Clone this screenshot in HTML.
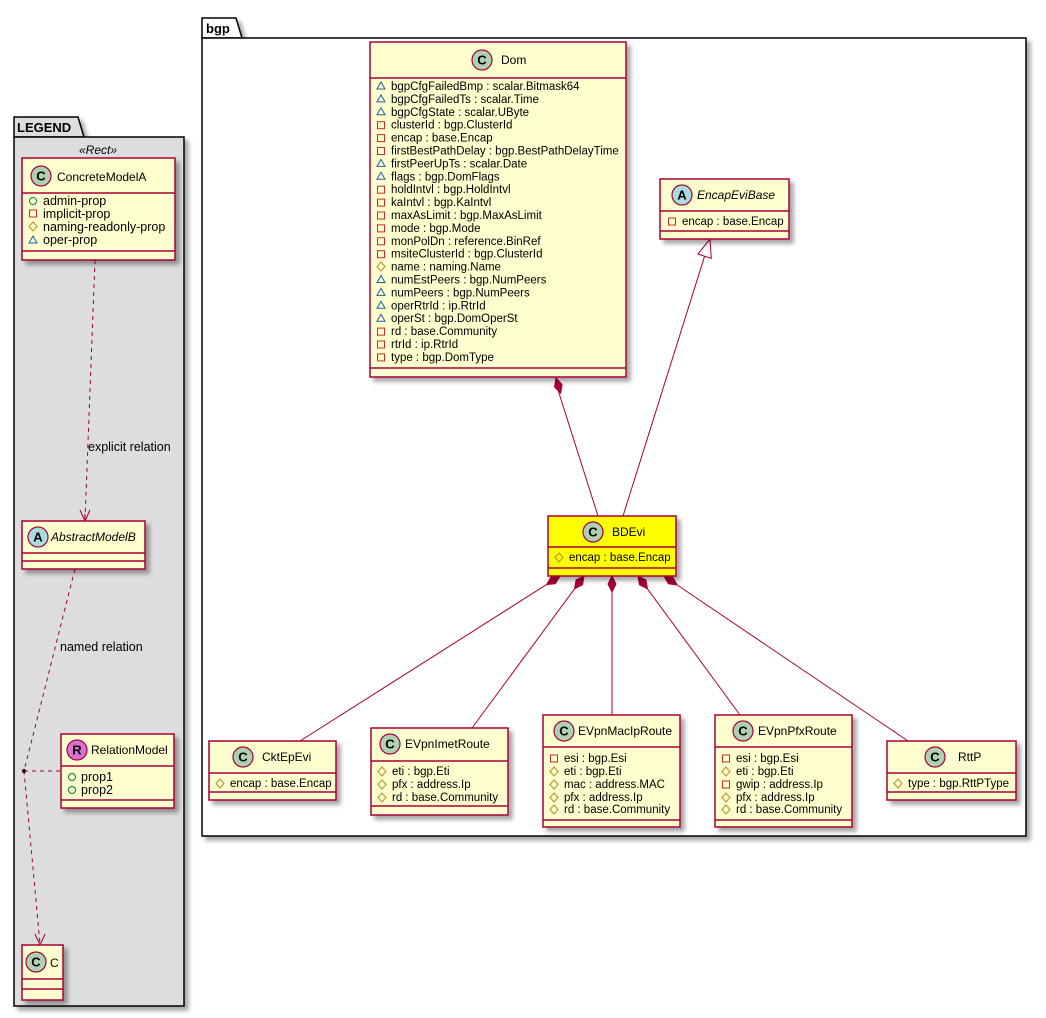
<!DOCTYPE html>
<html><head><meta charset="utf-8"><style>
html,body{margin:0;padding:0;background:#fff;width:1046px;height:1018px;overflow:hidden}
svg{display:block;font-family:"Liberation Sans",sans-serif}
.c{fill:#FEFECE;stroke:#A80036;stroke-width:1.5}
.l{stroke:#A80036;stroke-width:1.5}
.e{stroke:#A80036;stroke-width:1;fill:none}
.t{font-size:11.5px;fill:#000}
.lg{font-size:12.5px}
.n{font-size:12px;fill:#000}
.ci{fill:#ADD1B2;stroke:#A80036;stroke-width:1.2}
.ai{fill:#A9DCDF;stroke:#A80036;stroke-width:1.2}
.ri{fill:#DA70D6;stroke:#A80036;stroke-width:1.2}
.il{font-size:13px;font-weight:bold;text-anchor:middle;fill:#000}
.tri{fill:none;stroke:#1963A0;stroke-width:1}
.sq{fill:none;stroke:#C82930;stroke-width:1}
.dia{fill:none;stroke:#B38D22;stroke-width:1}
.ci2{fill:none;stroke:#038048;stroke-width:1}
</style></head><body>
<svg width="1046" height="1018" viewBox="0 0 1046 1018">
<defs><filter id="s" x="-10%" y="-10%" width="130%" height="130%"><feDropShadow dx="4" dy="4" stdDeviation="2" flood-color="#000" flood-opacity="0.35"/></filter></defs>

<g filter="url(#s)">
<path d="M14,137 L14,117 L78,117 L84,137 Z" fill="#DDDDDD" stroke="#000" stroke-width="1.5"/>
<rect x="14" y="137" width="170" height="869" fill="#DDDDDD" stroke="#000" stroke-width="1.5"/>
</g>
<text x="17" y="132" style="font-size:13px;font-weight:bold">LEGEND</text>
<text x="98" y="154" style="font-size:12px;font-style:italic" text-anchor="middle">«Rect»</text>

<g filter="url(#s)">
<path d="M202,38 L202,18 L236,18 L242,38 Z" fill="#fff" stroke="#000" stroke-width="1.5"/>
<rect x="202" y="38" width="824" height="798" fill="#fff" stroke="#000" stroke-width="1.5"/>
</g>
<text x="206" y="33" style="font-size:13px;font-weight:bold">bgp</text>

<path d="M95,260 L85,520" class="e" stroke-dasharray="4,4"/>
<path d="M80,510 L85,521 L90,510 M85,521 L85,514" class="e"/>
<text x="88" y="451" class="t" style="font-size:12.5px">explicit relation</text>
<path d="M75,569 L24,771 L40,944" class="e" stroke-dasharray="4,4"/>
<path d="M35,934 L40,945 L45,934" class="e"/>
<circle cx="24" cy="771" r="2" fill="#000"/>
<path d="M24,771 L61,771" class="e" stroke-dasharray="4,4"/>
<text x="60" y="651" class="t" style="font-size:12.5px">named relation</text>

<g filter="url(#s)"><rect x="22" y="158" width="153" height="102" class="c"/></g>
<line x1="22" y1="193" x2="175" y2="193" class="l"/><line x1="22" y1="251" x2="175" y2="251" class="l"/>
<circle cx="41" cy="176" r="10" class="ci"/><text x="41" y="180.5" class="il">C</text>
<text x="57" y="181" class="n">ConcreteModelA</text>
<circle cx="33" cy="201" r="3.5" class="ci2"/><text x="43" y="205" class="t lg">admin-prop</text>
<rect x="29.5" y="210" width="7" height="7" class="sq"/><text x="43" y="218" class="t lg">implicit-prop</text>
<polygon points="33,222 37,226.5 33,231 29,226.5" class="dia"/><text x="43" y="231" class="t lg">naming-readonly-prop</text>
<polygon points="29,243 37,243 33,236" class="tri"/><text x="43" y="244" class="t lg">oper-prop</text>

<g filter="url(#s)"><rect x="22" y="521" width="123" height="48" class="c"/></g>
<line x1="22" y1="553" x2="145" y2="553" class="l"/><line x1="22" y1="561" x2="145" y2="561" class="l"/>
<circle cx="38" cy="537" r="10" class="ai"/><text x="38" y="541.5" class="il">A</text>
<text x="51" y="541" class="n" style="font-style:italic">AbstractModelB</text>

<g filter="url(#s)"><rect x="61" y="734" width="113" height="74" class="c"/></g>
<line x1="61" y1="766" x2="174" y2="766" class="l"/><line x1="61" y1="800" x2="174" y2="800" class="l"/>
<circle cx="77" cy="750" r="10" class="ri"/><text x="77" y="754.5" class="il">R</text>
<text x="91" y="754" class="n">RelationModel</text>
<circle cx="72" cy="777" r="3.5" class="ci2"/><text x="81" y="781" class="t lg">prop1</text>
<circle cx="72" cy="790" r="3.5" class="ci2"/><text x="81" y="794" class="t lg">prop2</text>

<g filter="url(#s)"><rect x="22" y="945" width="41" height="55" class="c"/></g>
<line x1="22" y1="979" x2="63" y2="979" class="l"/><line x1="22" y1="989" x2="63" y2="989" class="l"/>
<circle cx="36" cy="962" r="10" class="ci"/><text x="36" y="966.5" class="il">C</text>
<text x="50" y="967" class="n">C</text>

<line x1="558" y1="390" x2="598" y2="516" class="e"/>
<polygon points="556,378 562.1,384.5 560.7,393.3 554.5,386.9" fill="#A80036" stroke="#A80036"/>
<line x1="704.6" y1="256.2" x2="623" y2="516" class="e"/>
<polygon points="710,239 711.3,258.3 697.9,254.1" fill="#fff" stroke="#A80036"/>
<line x1="546.5" y1="584.6" x2="300" y2="741" class="e"/>
<polygon points="560,576 555.4,583.7 546.5,584.6 551.1,576.9" fill="#A80036" stroke="#A80036"/>
<line x1="574.5" y1="588.9" x2="472" y2="728" class="e"/>
<polygon points="584,576 582.5,584.8 574.5,588.9 576.1,580" fill="#A80036" stroke="#A80036"/>
<line x1="612" y1="592" x2="612" y2="715" class="e"/>
<polygon points="612,576 616,584 612,592 608,584" fill="#A80036" stroke="#A80036"/>
<line x1="647.5" y1="588.9" x2="740" y2="715" class="e"/>
<polygon points="638,576 645.9,580 647.5,588.9 639.5,584.8" fill="#A80036" stroke="#A80036"/>
<line x1="677.2" y1="585" x2="908" y2="741" class="e"/>
<polygon points="664,576 672.8,577.2 677.2,585 668.4,583.8" fill="#A80036" stroke="#A80036"/>

<g filter="url(#s)"><rect x="370" y="42" width="256" height="335" class="c"/></g>
<line x1="370" y1="78" x2="626" y2="78" class="l"/><line x1="370" y1="368" x2="626" y2="368" class="l"/>
<circle cx="482" cy="60" r="10" class="ci"/><text x="482" y="64.5" class="il">C</text>
<text x="501" y="64" class="n">Dom</text>
<g class="t">
<polygon points="377,89 385,89 381,82" class="tri"/><text x="391" y="90">bgpCfgFailedBmp : scalar.Bitmask64</text>
<polygon points="377,101.9 385,101.9 381,94.9" class="tri"/><text x="391" y="102.9">bgpCfgFailedTs : scalar.Time</text>
<polygon points="377,114.8 385,114.8 381,107.8" class="tri"/><text x="391" y="115.8">bgpCfgState : scalar.UByte</text>
<rect x="377.5" y="121.7" width="7" height="7" class="sq"/><text x="391" y="128.7">clusterId : bgp.ClusterId</text>
<rect x="377.5" y="134.6" width="7" height="7" class="sq"/><text x="391" y="141.6">encap : base.Encap</text>
<rect x="377.5" y="147.5" width="7" height="7" class="sq"/><text x="391" y="154.5">firstBestPathDelay : bgp.BestPathDelayTime</text>
<polygon points="377,166.4 385,166.4 381,159.4" class="tri"/><text x="391" y="167.4">firstPeerUpTs : scalar.Date</text>
<polygon points="377,179.3 385,179.3 381,172.3" class="tri"/><text x="391" y="180.3">flags : bgp.DomFlags</text>
<rect x="377.5" y="186.2" width="7" height="7" class="sq"/><text x="391" y="193.2">holdIntvl : bgp.HoldIntvl</text>
<rect x="377.5" y="199.1" width="7" height="7" class="sq"/><text x="391" y="206.1">kaIntvl : bgp.KaIntvl</text>
<rect x="377.5" y="212" width="7" height="7" class="sq"/><text x="391" y="219">maxAsLimit : bgp.MaxAsLimit</text>
<rect x="377.5" y="224.9" width="7" height="7" class="sq"/><text x="391" y="231.9">mode : bgp.Mode</text>
<rect x="377.5" y="237.8" width="7" height="7" class="sq"/><text x="391" y="244.8">monPolDn : reference.BinRef</text>
<rect x="377.5" y="250.7" width="7" height="7" class="sq"/><text x="391" y="257.7">msiteClusterId : bgp.ClusterId</text>
<polygon points="381,262 385,266.5 381,271 377,266.5" class="dia"/><text x="391" y="270.6">name : naming.Name</text>
<polygon points="377,282.5 385,282.5 381,275.5" class="tri"/><text x="391" y="283.5">numEstPeers : bgp.NumPeers</text>
<polygon points="377,295.4 385,295.4 381,288.4" class="tri"/><text x="391" y="296.4">numPeers : bgp.NumPeers</text>
<polygon points="377,308.3 385,308.3 381,301.3" class="tri"/><text x="391" y="309.3">operRtrId : ip.RtrId</text>
<polygon points="377,321.2 385,321.2 381,314.2" class="tri"/><text x="391" y="322.2">operSt : bgp.DomOperSt</text>
<rect x="377.5" y="328.1" width="7" height="7" class="sq"/><text x="391" y="335.1">rd : base.Community</text>
<rect x="377.5" y="341" width="7" height="7" class="sq"/><text x="391" y="348">rtrId : ip.RtrId</text>
<rect x="377.5" y="353.9" width="7" height="7" class="sq"/><text x="391" y="360.9">type : bgp.DomType</text>
</g>

<g filter="url(#s)"><rect x="660" y="179" width="129" height="60" class="c"/></g>
<line x1="660" y1="211" x2="789" y2="211" class="l"/><line x1="660" y1="231" x2="789" y2="231" class="l"/>
<circle cx="682" cy="195" r="10" class="ai"/><text x="682" y="199.5" class="il">A</text>
<text x="697" y="199" class="n" style="font-style:italic">EncapEviBase</text>
<rect x="668.5" y="218" width="7" height="7" class="sq"/><text x="682" y="225" class="t">encap : base.Encap</text>

<g filter="url(#s)"><rect x="548" y="516" width="128" height="60" fill="#FFFF00" stroke="#A80036" stroke-width="1.5"/></g>
<line x1="548" y1="547" x2="676" y2="547" class="l"/><line x1="548" y1="568" x2="676" y2="568" class="l"/>
<circle cx="593" cy="532" r="10" class="ci"/><text x="593" y="536.5" class="il">C</text>
<text x="612" y="536" class="n">BDEvi</text>
<polygon points="559,553 563,557.5 559,562 555,557.5" class="dia"/><text x="569" y="561" class="t">encap : base.Encap</text>

<g filter="url(#s)"><rect x="209" y="741" width="127" height="59" class="c"/></g>
<line x1="209" y1="773" x2="336" y2="773" class="l"/><line x1="209" y1="792" x2="336" y2="792" class="l"/>
<circle cx="243" cy="757" r="10" class="ci"/><text x="243" y="761.5" class="il">C</text>
<text x="262" y="761" class="n">CktEpEvi</text>
<polygon points="220,779 224,783.5 220,788 216,783.5" class="dia"/><text x="230" y="787" class="t">encap : base.Encap</text>

<g filter="url(#s)"><rect x="371" y="728" width="137" height="87" class="c"/></g>
<line x1="371" y1="761" x2="508" y2="761" class="l"/><line x1="371" y1="806" x2="508" y2="806" class="l"/>
<circle cx="390" cy="744" r="10" class="ci"/><text x="390" y="748.5" class="il">C</text>
<text x="405" y="748" class="n">EVpnImetRoute</text>
<polygon points="382,767 386,771.5 382,776 378,771.5" class="dia"/><text x="392" y="775" class="t">eti : bgp.Eti</text>
<polygon points="382,780 386,784.5 382,789 378,784.5" class="dia"/><text x="392" y="788" class="t">pfx : address.Ip</text>
<polygon points="382,793 386,797.5 382,802 378,797.5" class="dia"/><text x="392" y="801" class="t">rd : base.Community</text>

<g filter="url(#s)"><rect x="543" y="715" width="137" height="112" class="c"/></g>
<line x1="543" y1="747" x2="680" y2="747" class="l"/><line x1="543" y1="820" x2="680" y2="820" class="l"/>
<circle cx="564" cy="731" r="10" class="ci"/><text x="564" y="735.5" class="il">C</text>
<text x="578" y="735" class="n">EVpnMacIpRoute</text>
<rect x="550.5" y="755" width="7" height="7" class="sq"/><text x="564" y="762" class="t">esi : bgp.Esi</text>
<polygon points="554,767 558,771.5 554,776 550,771.5" class="dia"/><text x="564" y="775" class="t">eti : bgp.Eti</text>
<polygon points="554,780 558,784.5 554,789 550,784.5" class="dia"/><text x="564" y="788" class="t">mac : address.MAC</text>
<polygon points="554,793 558,797.5 554,802 550,797.5" class="dia"/><text x="564" y="801" class="t">pfx : address.Ip</text>
<polygon points="554,805 558,809.5 554,814 550,809.5" class="dia"/><text x="564" y="813" class="t">rd : base.Community</text>

<g filter="url(#s)"><rect x="715" y="715" width="137" height="112" class="c"/></g>
<line x1="715" y1="747" x2="852" y2="747" class="l"/><line x1="715" y1="820" x2="852" y2="820" class="l"/>
<circle cx="743" cy="731" r="10" class="ci"/><text x="743" y="735.5" class="il">C</text>
<text x="758" y="735" class="n">EVpnPfxRoute</text>
<rect x="722.5" y="755" width="7" height="7" class="sq"/><text x="736" y="762" class="t">esi : bgp.Esi</text>
<polygon points="726,767 730,771.5 726,776 722,771.5" class="dia"/><text x="736" y="775" class="t">eti : bgp.Eti</text>
<rect x="722.5" y="781" width="7" height="7" class="sq"/><text x="736" y="788" class="t">gwip : address.Ip</text>
<polygon points="726,793 730,797.5 726,802 722,797.5" class="dia"/><text x="736" y="801" class="t">pfx : address.Ip</text>
<polygon points="726,805 730,809.5 726,814 722,809.5" class="dia"/><text x="736" y="813" class="t">rd : base.Community</text>

<g filter="url(#s)"><rect x="887" y="741" width="129" height="59" class="c"/></g>
<line x1="887" y1="773" x2="1016" y2="773" class="l"/><line x1="887" y1="792" x2="1016" y2="792" class="l"/>
<circle cx="935" cy="757" r="10" class="ci"/><text x="935" y="761.5" class="il">C</text>
<text x="958" y="761" class="n">RttP</text>
<polygon points="898,779 902,783.5 898,788 894,783.5" class="dia"/><text x="908" y="787" class="t">type : bgp.RttPType</text>
</svg>
</body></html>
